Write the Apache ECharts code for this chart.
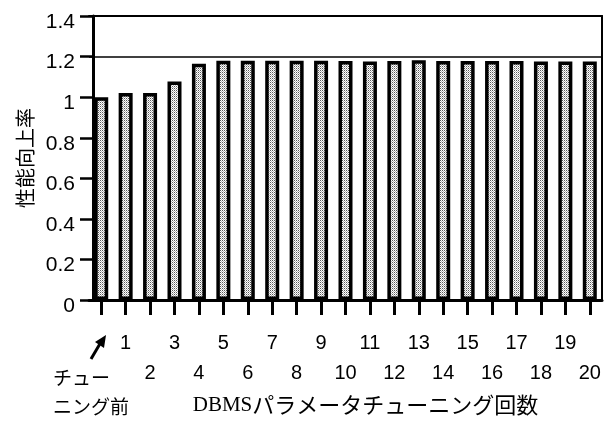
<!DOCTYPE html>
<html>
<head>
<meta charset="utf-8">
<script src="https://cdn.jsdelivr.net/npm/echarts@6/dist/echarts.min.js"></script>
<style>
html,body{margin:0;padding:0;background:#fff;}
#chart{width:607px;height:422px;}
</style>
</head>
<body>
<div id="chart"></div>
<script>
// ---- data ----
const categories = ['チューニング前','1','2','3','4','5','6','7','8','9','10','11','12','13','14','15','16','17','18','19','20'];
const firstLabelLines = ['チュー', 'ニング前'];
const improvement = [1.00, 1.02, 1.02, 1.077, 1.165, 1.18, 1.18, 1.18, 1.18, 1.18, 1.178, 1.176, 1.178, 1.182, 1.178, 1.178, 1.178, 1.178, 1.176, 1.176, 1.176];
const refLine = 1.2;
const yTicks = { min: 0, max: 1.4, interval: 0.2 };
const yName = '性能向上率';
const xNameLatin = 'DBMS';
const xNameJp = 'パラメータチューニング回数';

// stipple pattern
const pc = document.createElement('canvas');
pc.width = 2; pc.height = 2;
const px = pc.getContext('2d');
px.fillStyle = '#ffffff'; px.fillRect(0, 0, 2, 2);
px.fillStyle = '#5a5a5a'; px.fillRect(0, 0, 1, 1);
px.fillStyle = '#b4b4b4'; px.fillRect(1, 1, 1, 1);

const chart = echarts.init(document.getElementById('chart'), null, { renderer: 'canvas' });
const numFont = 'Liberation Sans';
const jpFont = 'Noto Sans CJK JP';

chart.setOption({
  animation: false,
  backgroundColor: '#fff',
  grid: { left: 89, right: 5, top: 16, bottom: 111, containLabel: false },
  xAxis: [{
    type: 'category',
    data: categories,
    position: 'bottom',
    boundaryGap: true,
    axisLine: { show: true, onZero: false, lineStyle: { color: '#000', width: 3 } },
    axisTick: { show: true, alignWithLabel: true, length: 15, lineStyle: { color: '#000', width: 3 } },
    axisLabel: {
      interval: 0, margin: 28, color: '#000', fontFamily: numFont, fontSize: 20, lineHeight: 30,
      formatter: function (v, i) {
        if (i === 0) return '';
        return (i % 2 === 1) ? (v + '\n ') : (' \n' + v);
      }
    },
    name: '{s|' + xNameLatin + '}{j|' + xNameJp + '}',
    nameLocation: 'middle',
    nameGap: 88,
    nameTextStyle: {
      color: '#000', padding: [0, 0, 0, 40], lineHeight: 24,
      rich: {
        s: { fontFamily: 'Liberation Serif', fontSize: 21, color: '#000', lineHeight: 24 },
        j: { fontFamily: jpFont, fontSize: 22, color: '#000', lineHeight: 24 }
      }
    }
  }, {
    type: 'category',
    data: categories,
    position: 'top',
    axisLine: { show: true, onZero: false, lineStyle: { color: '#000', width: 2 } },
    axisTick: { show: false },
    axisLabel: { show: false }
  }],
  yAxis: [{
    type: 'value',
    min: yTicks.min, max: yTicks.max, interval: yTicks.interval,
    position: 'left',
    offset: -4,
    axisLine: { show: true, onZero: false, lineStyle: { color: '#000', width: 3 } },
    axisTick: { show: true, length: 13, lineStyle: { color: '#000', width: 2.5 } },
    splitLine: { show: false },
    axisLabel: {
      color: '#000', fontFamily: numFont, fontSize: 21, margin: 18,
      formatter: function (v) { return '{a|' + v + '}'; },
      rich: { a: { fontFamily: numFont, fontSize: 21, color: '#000', padding: [12, 0, 0, 0] } }
    },
    name: yName,
    nameLocation: 'middle',
    nameGap: 58,
    nameTextStyle: { color: '#000', fontFamily: jpFont, fontSize: 20 }
  }, {
    type: 'value',
    min: yTicks.min, max: yTicks.max, interval: yTicks.interval,
    position: 'right',
    axisLine: { show: true, onZero: false, lineStyle: { color: '#000', width: 2 } },
    axisTick: { show: false },
    axisLabel: { show: false },
    splitLine: { show: false }
  }],
  series: [{
    type: 'bar',
    data: improvement,
    barWidth: 14,
    itemStyle: {
      color: { image: pc, repeat: 'repeat' },
      borderColor: '#000',
      borderWidth: 3.5
    },
    markLine: {
      silent: true,
      symbol: 'none',
      label: { show: false },
      lineStyle: { color: '#000', width: 1.5, type: 'solid' },
      data: [{ yAxis: refLine }]
    }
  }],
  graphic: [
    { type: 'text', left: 53, top: 368, style: { text: firstLabelLines[0], fill: '#000', fontFamily: jpFont, fontSize: 19 } },
    { type: 'text', left: 53, top: 397, style: { text: firstLabelLines[1], fill: '#000', fontFamily: jpFont, fontSize: 19 } },
    { type: 'line', shape: { x1: 91, y1: 359, x2: 101, y2: 342 }, style: { stroke: '#000', lineWidth: 3 } },
    { type: 'polygon', shape: { points: [[106, 335], [95, 342], [104, 348]] }, style: { fill: '#000' } }
  ]
});
</script>
</body>
</html>
